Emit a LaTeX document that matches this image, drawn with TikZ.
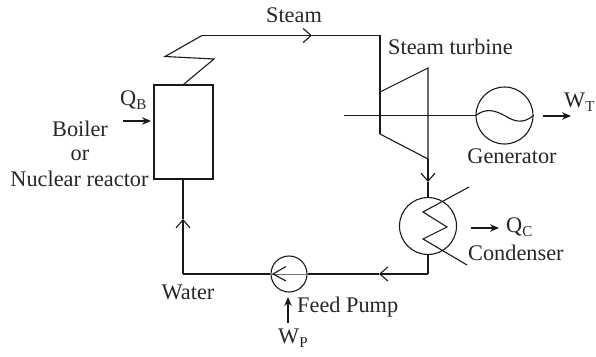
\documentclass[tikz,border=0pt]{standalone}
\usepackage{fontspec}
\setmainfont{Liberation Serif}
\usetikzlibrary{arrows.meta}
\newcommand{\lowsub}[1]{\raisebox{-4.5pt}{\fontsize{15}{15}\selectfont #1}}
\begin{document}
\begin{tikzpicture}[x=1pt,y=-1pt,
  ln/.style={line width=1.1pt,draw=black!90},
  flow/.style={ln,-{Straight Barb[length=8pt,width=14pt,line width=1.1pt]}},
  heat/.style={line width=1.1pt,draw=black!90,-{Stealth[length=9pt,width=7.5pt]}},
  lab/.style={font=\fontsize{22.3}{24}\selectfont,text=black!85,inner sep=0pt},
  circ/.style={ln,circle,inner sep=0pt}]
\useasboundingbox (0,0) rectangle (596,356);
% components
\node[ln,rectangle,inner sep=0pt,minimum width=59pt,minimum height=94pt] (boiler) at (183.5,132) {};
\node[circ,minimum size=57pt] (gen) at (504.5,115.5) {};
\node[circ,minimum size=57pt] (cond) at (428,226) {};
\node[circ,minimum size=36pt] (pump) at (289,274) {};
% turbine
\coordinate (tlt) at (380,92);
\coordinate (trt) at (428,68);
\coordinate (trb) at (428,159);
\coordinate (tlb) at (380,134);
\draw[ln] (tlt) -- (trt) -- (trb) -- (tlb);
% steam line
\coordinate (z1) at (214,59);
\coordinate (z2) at (165,56.5);
\coordinate (z3) at (202,35.5);
\coordinate (s1) at (312,35.5);
\coordinate (s2) at (380,35.5);
\draw[ln] (boiler.north) -- (z1) -- (z2) -- (z3);
\draw[flow] (z3) -- (s1);
\draw[ln] (s1) -- (s2) -- (tlb);
% shaft
\coordinate (shaft) at (344,115.5);
\draw[ln] (shaft) -- (gen.west);
\draw[ln] (gen.west) .. controls (486,108) and (494,110) .. (504.5,115.5) .. controls (515,122) and (523,124) .. (gen.east);
% turbine to condenser
\coordinate (c1) at (428,182);
\draw[flow] (trb) -- (c1);
\draw[ln] (c1) -- (cond.north);
% coil
\coordinate (k0) at (469,187);
\coordinate (k1) at (423,212);
\coordinate (k2) at (447,227);
\coordinate (k3) at (423,239);
\coordinate (k4) at (467,265);
\draw[ln] (k0) -- (k1) -- (k2) -- (k3) -- (k4);
% return
\coordinate (r1) at (428,274);
\coordinate (r2) at (379,274);
\coordinate (r3) at (183,274);
\coordinate (r4) at (183,219);
\draw[ln] (cond.south) -- (r1);
\draw[flow] (r1) -- (r2);
\draw[ln] (r2) -- (pump.east);
\draw[ln] (pump.west) -- (r3);
\draw[flow] (r3) -- (r4);
\draw[ln] (r4) -- (r4 |- boiler.south);
% pump inside
\draw[line width=0.9pt,draw=black!55] (pump.east) -- (pump.west);
\coordinate (pa) at (273,274);
\coordinate (pb) at (286,266.5);
\coordinate (pc) at (286,281);
\draw[ln] (pb) -- (pa) -- (pc);
% heat/work arrows
\coordinate (qb1) at (123,121);
\coordinate (qb2) at (151,121);
\draw[heat] (qb1) -- (qb2);
\coordinate (wt1) at (543,116);
\coordinate (wt2) at (571,116);
\draw[heat] (wt1) -- (wt2);
\coordinate (qc1) at (471,228);
\coordinate (qc2) at (499,228);
\draw[heat] (qc1) -- (qc2);
\coordinate (wp1) at (288,323);
\coordinate (wp2) at (288,297);
\draw[heat] (wp1) -- (wp2);
% labels
\node[lab] (steam) at (294,15) {Steam};
\node[lab,anchor=west] (st) at (388,47) {Steam turbine};
\node[lab,anchor=base west] (qb) at (120,105) {Q\lowsub{B}};
\node[lab] (bo) at (80,129) {Boiler};
\node[lab] (or) at (80,155) {or};
\node[lab] (nr) at (79.5,179) {Nuclear reactor};
\node[lab] (g) at (512,156) {Generator};
\node[lab,anchor=base west] (wt) at (564,107) {W\lowsub{T}};
\node[lab,anchor=base west] (qc) at (506,232) {Q\lowsub{C}};
\node[lab,anchor=west] (c) at (468,253) {Condenser};
\node[lab] (w) at (188,292) {Water};
\node[lab,anchor=west] (fp) at (297,307) {Feed Pump};
\node[lab,anchor=base west] (wp) at (278,343) {W\lowsub{P}};
\end{tikzpicture}
\end{document}
